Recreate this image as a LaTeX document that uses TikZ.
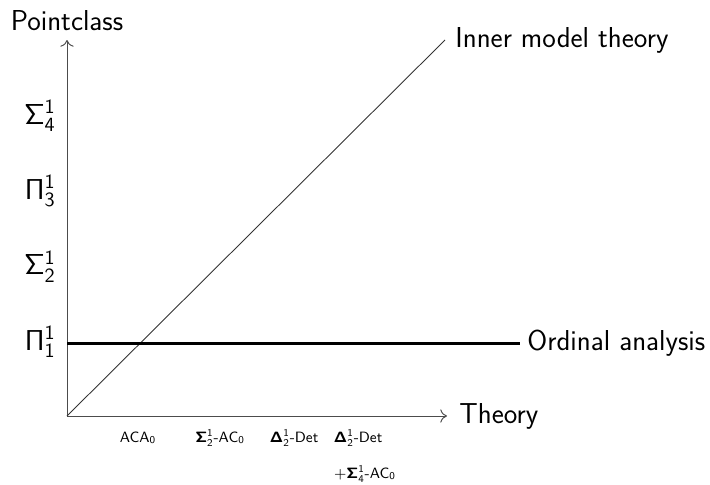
\RequirePackage{fix-cm}
\documentclass[tikz,border=0pt]{standalone}
\usepackage{amsmath}
\usetikzlibrary{arrows.meta}
\DeclareMathAlphabet{\mathsfbf}{OT1}{cmss}{bx}{n}
\tikzset{
  big/.style={font=\sffamily\fontsize{16.4}{19}\selectfont, inner sep=0pt},
  small/.style={font=\sffamily\fontsize{8.5}{10}\selectfont, inner sep=0pt},
  axis/.style={draw=black!70, line width=0.55pt, -{To[length=3.8pt,width=7.6pt]}},
  thin line/.style={draw=black!80, line width=0.5pt},
  thick line/.style={draw=black, line width=1.7pt},
}
\begin{document}
\begin{tikzpicture}[x=0.02cm,y=-0.02cm]
\useasboundingbox (0,0) rectangle (710,484);
\coordinate (O) at (67,416);
\coordinate (ytip) at (67,40);
\coordinate (xtip) at (447,416);
\coordinate (dtip) at (445,40);
\coordinate (hstart) at (67,343);
\coordinate (hend) at (520,343);
\draw[axis] (O) -- (ytip);
\draw[axis] (O) -- (xtip);
\draw[thin line] (O) -- (dtip);
\draw[thick line] (hstart) -- (hend);
\node[big, anchor=base] (pc) at (67,30) {Pointclass};
\node[big, anchor=west] (th) at (459,416) {Theory};
\node[big, anchor=west] (imt) at (455,40) {Inner model theory};
\node[big, anchor=west] (oa) at (527,343) {Ordinal analysis};
\node[big, anchor=base east] (p1) at (56,350) {$\mathsf{\Pi^1_1}$};
\node[big, anchor=base east] (s2) at (56,274.5) {$\mathsf{\Sigma^1_2}$};
\node[big, anchor=base east] (p3) at (56,199) {$\mathsf{\Pi^1_3}$};
\node[big, anchor=base east] (s4) at (56,124) {$\mathsf{\Sigma^1_4}$};
\node[small, anchor=base] (aca) at (138,442) {ACA$_{\mathsf{0}}$};
\node[small, anchor=base] (sac) at (220,442) {$\mathsfbf{\Sigma}^{\mathsf{1}}_{\mathsf{2}}$-AC$_{\mathsf{0}}$};
\node[small, anchor=base] (det1) at (294,442) {$\mathsfbf{\Delta}^{\mathsf{1}}_{\mathsf{2}}$-Det};
\node[small, anchor=base] (det2) at (358,442) {$\mathsfbf{\Delta}^{\mathsf{1}}_{\mathsf{2}}$-Det};
\node[small, anchor=base] (plus) at (365,478) {$+\mathsfbf{\Sigma}^{\mathsf{1}}_{\mathsf{4}}$-AC$_{\mathsf{0}}$};
\end{tikzpicture}
\end{document}
